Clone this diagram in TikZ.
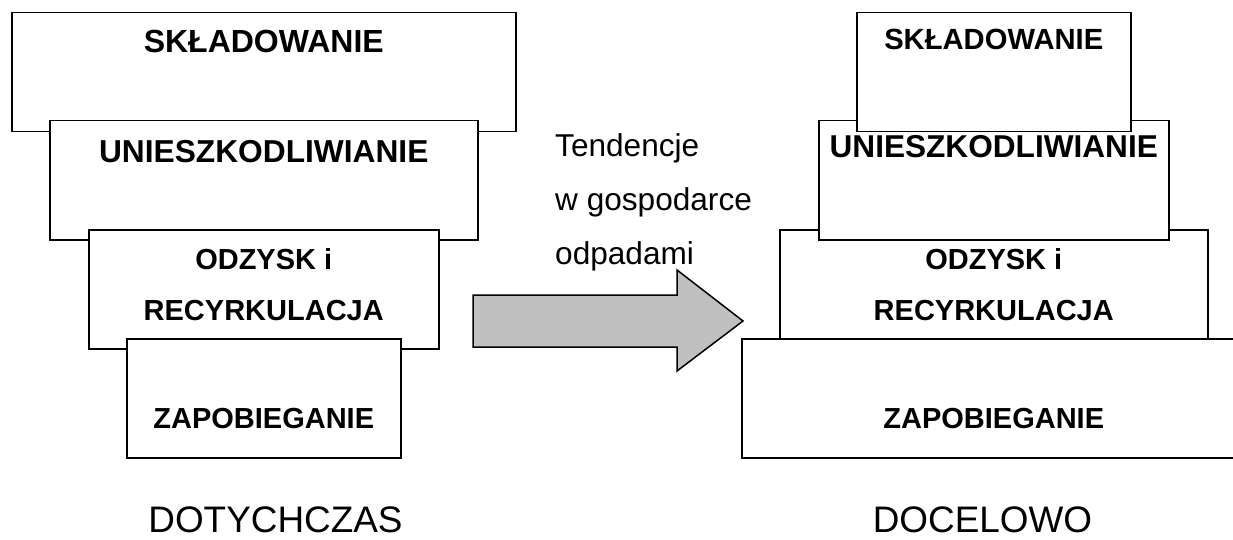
\documentclass[tikz,border=0pt]{standalone}
\usepackage{fontspec}
\setmainfont{Liberation Sans}
\definecolor{arrowgray}{RGB}{192,192,192}
\begin{document}
\begin{tikzpicture}[x=1pt,y=-1pt,
  box/.style={draw=black, line width=1.5pt, fill=white, anchor=north west, inner sep=0pt, minimum height=119pt},
  lbl/.style={anchor=base, inner sep=0pt, font=\bfseries\fontsize{#1}{#1}\selectfont},
  plain/.style={inner sep=0pt, font=\fontsize{#1}{#1}\selectfont},
  bigarrow/.style={draw=black, line width=1.5pt, fill=arrowgray, line join=miter}]
\useasboundingbox (0,0) rectangle (1233,540);
\clip (0,0) rectangle (1233,540);
% left stack (DOTYCHCZAS)
\node[box, minimum width=504pt] (lS) at (11,12) {};
\node[box, minimum width=428pt] (lU) at (49,120) {};
\node[box, minimum width=350pt] (lO) at (88,229) {};
\node[box, minimum width=274pt] (lZ) at (126,338) {};
\node[lbl=32] at ([yshift=-41pt]lS.north) {SKŁADOWANIE};
\node[lbl=31.7] at ([yshift=-43pt]lU.north) {UNIESZKODLIWIANIE};
\node[lbl=29] at ([yshift=-40pt]lO.north) {ODZYSK i};
\node[lbl=29] at ([yshift=-91pt]lO.north) {RECYRKULACJA};
\node[lbl=29] at ([yshift=-90pt]lZ.north) {ZAPOBIEGANIE};
% right stack (DOCELOWO)
\node[box, minimum width=428pt] (rO) at (779,229) {};
\node[box, minimum width=504pt] (rZ) at (741,338) {};
\node[box, minimum width=350pt] (rU) at (818,120) {};
\node[box, minimum width=274pt] (rS) at (856,12) {};
\node[lbl=29.2] at ([yshift=-38pt]rS.north) {SKŁADOWANIE};
\node[lbl=31.6] at ([yshift=-38pt]rU.north) {UNIESZKODLIWIANIE};
\node[lbl=29] at ([yshift=-40pt]rO.north) {ODZYSK i};
\node[lbl=29] at ([yshift=-91pt]rO.north) {RECYRKULACJA};
\node[lbl=29] at ([yshift=-90pt]rZ.north) {ZAPOBIEGANIE};
% arrow
\coordinate (a1) at (473,295);
\coordinate (a2) at (677,295);
\coordinate (a3) at (677,270);
\coordinate (tip) at (743,321);
\coordinate (a5) at (677,371);
\coordinate (a6) at (677,347);
\coordinate (a7) at (473,347);
\draw[bigarrow] (a1) -- (a2) -- (a3) -- (tip) -- (a5) -- (a6) -- (a7) -- cycle;
% middle text
\node[plain=31.6, anchor=base west] (t1) at (555,157) {Tendencje};
\node[plain=31.6, anchor=base west] (t2) at (555,211) {w gospodarce};
\node[plain=31.6, anchor=base west] (t3) at (555,264) {odpadami};
% captions
\node[plain=36.9, anchor=base] (cL) at (275.5,532) {DOTYCHCZAS};
\node[plain=36.9, anchor=base] (cR) at (982.5,532) {DOCELOWO};
\end{tikzpicture}
\end{document}
